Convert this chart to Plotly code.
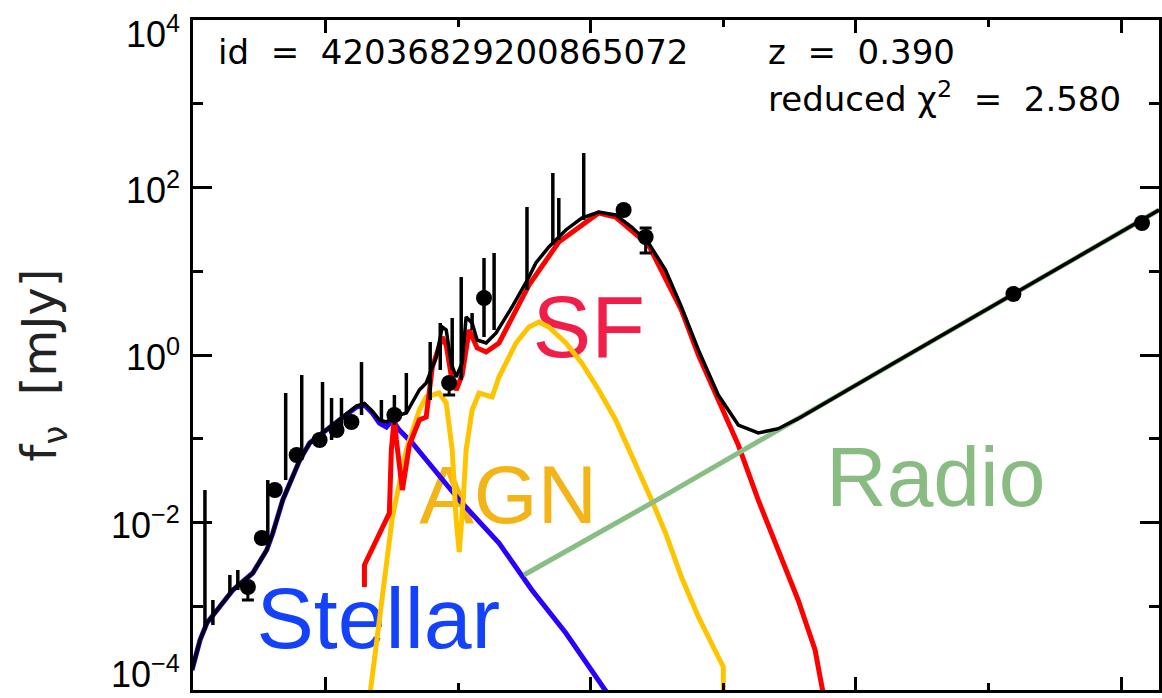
import numpy as np
import plotly.graph_objects as go

# ---------------- data: log10(wavelength / um), log10(f_nu / mJy) ----------------
stellar_loglam = [-1.0075, -0.947, -0.895, -0.699, -0.549, -0.444, -0.398, -0.323, -0.195, -0.120,
                  -0.023, 0.105, 0.233, 0.293, 0.353, 0.406, 0.459, 0.504, 0.556, 0.654, 1.008,
                  1.308, 1.556, 1.812, 2.113, 2.13]
stellar_logf = [-3.761, -3.403, -3.200, -2.806, -2.603, -2.328, -2.125, -1.731, -1.254, -1.051,
                -0.931, -0.776, -0.621, -0.597, -0.693, -0.812, -0.860, -0.776, -0.896, -1.051, -1.731,
                -2.245, -2.806, -3.319, -4.0, -4.05]

agn_loglam = [0.331, 0.406, 0.504, 0.609, 0.707, 0.759, 0.857, 0.910, 0.932, 0.955, 0.985, 1.008,
              1.038, 1.060, 1.105, 1.158, 1.256, 1.308, 1.436, 1.534, 1.609, 1.684, 1.812, 1.932,
              2.060, 2.188, 2.459, 2.564, 2.684, 2.812, 2.962, 3.0, 3.0]
agn_logf = [-4.1, -3.128, -1.934, -1.134, -0.657, -0.501, -0.454, -0.573, -0.812, -1.134, -1.970, -2.352,
            -1.731, -1.134, -0.657, -0.454, -0.501, -0.263, 0.143, 0.334, 0.394, 0.334, 0.143, -0.096,
            -0.418, -0.776, -1.731, -2.125, -2.651, -3.128, -3.606, -3.725, -4.1]

sf_loglam = [0.293, 0.293, 0.481, 0.496, 0.519, 0.534, 0.579, 0.632, 0.707, 0.759, 0.805, 0.880,
             0.910, 0.947, 0.985, 1.030, 1.083, 1.143, 1.211, 1.308, 1.534, 1.759, 2.060, 2.188,
             2.436, 2.684, 2.812, 2.962, 3.113, 3.263, 3.436, 3.564, 3.692, 3.76]
sf_logf = [-2.770, -2.507, -1.887, -1.134, -0.740, -1.015, -1.612, -1.075, -0.776, -0.740, -0.143, 0.215,
           0.119, -0.239, -0.418, -0.239, 0.299, 0.084, 0.036, 0.143, 0.836, 1.349, 1.696, 1.648,
           1.313, 0.537, 0.0, -0.537, -1.075, -1.731, -2.412, -2.925, -3.522, -4.1]

radio_loglam = [1.496, 2.534, 4.316, 5.188, 6.286]
radio_logf = [-2.627, -1.70, -0.070, 0.728, 1.731]

total_loglam = [-1.0075, -0.947, -0.895, -0.699, -0.549, -0.444, -0.398, -0.323, -0.195, -0.120,
                -0.023, 0.105, 0.233, 0.293, 0.353, 0.406, 0.459, 0.504, 0.609, 0.707, 0.759,
                0.835, 0.880, 0.910, 0.947, 0.985, 1.030, 1.060, 1.105, 1.143, 1.211, 1.286,
                1.406, 1.534, 1.586, 1.684, 1.812, 1.932, 2.060, 2.188, 2.308, 2.436, 2.564,
                2.684, 2.812, 2.962, 3.113, 3.263, 3.414, 3.564, 3.940, 4.316, 5.188, 6.286]
total_logf = [-3.761, -3.403, -3.200, -2.806, -2.603, -2.328, -2.125, -1.731, -1.254, -1.051,
              -0.931, -0.776, -0.610, -0.580, -0.670, -0.776, -0.800, -0.740, -0.693, -0.418, -0.334,
              -0.024, 0.334, 0.299, -0.096, -0.263, -0.096, 0.454, 0.382, 0.179, 0.143, 0.263,
              0.573, 0.931, 1.099, 1.290, 1.493, 1.636, 1.707, 1.672, 1.528, 1.337, 1.015,
              0.573, 0.060, -0.478, -0.836, -0.931, -0.880, -0.760, -0.410, -0.070, 0.728, 1.731]

# photometric points with (lower, upper) errors in dex
phot_loglam = [-0.586, -0.481, -0.383, -0.218, -0.045, 0.083, 0.195, 0.519, 0.932, 1.195,
               2.248, 2.414, 5.188, 6.158]
phot_logf = [-2.770, -2.185, -1.612, -1.194, -1.015, -0.896, -0.800, -0.716, -0.334, 0.681,
             1.731, 1.409, 0.728, 1.576]
phot_err_lo = [0.155, 0, 0, 0, 0, 0, 0, 0, 0.143, 0, 0, 0.19, 0, 0]
phot_err_hi = [0, 0, 0, 0, 0, 0, 0, 0, 0, 0, 0, 0.107, 0, 0]

# error bars drawn without a visible point
bar_loglam = [-0.910, -0.850, -0.722, -0.662, -0.436, -0.301, -0.180, -0.023, 0.045, 0.120, 0.271,
              0.421, 0.519, 0.609, 0.789, 0.865, 0.955, 1.023, 1.105, 1.195, 1.271, 1.519,
              1.714, 1.759, 1.947]
bar_hi_logf = [-1.612, -2.925, -2.627, -2.567, -1.493, -0.454, -0.239, -0.322, -0.513, -0.513, -0.084,
               -0.537, -0.478, -0.215, 0.155, 0.382, 0.442, 0.931, 0.501, 1.158, 1.218, 1.767,
               2.173, 1.875, 2.412]
bar_lo_logf = [-3.284, -3.224, -2.866, -2.806, -2.269, -1.493, -1.254, -1.015, -1.015, -0.896, -0.716,
               -0.776, -0.836, -0.693, -0.537, -0.179, -0.179, -0.298, 0.299, 0.215, 0.299, 0.776,
               1.313, 1.373, 1.612]

ytick_vals = [-4, -2, 0, 2, 4]
ytick_text = ["10<sup>\u22124</sup>", "10<sup>\u22122</sup>", "10<sup>0</sup>", "10<sup>2</sup>", "10<sup>4</sup>"]
yminor_vals = [1e-3, 1e-1, 1e1, 1e3]
xmajor_vals = [1, 1e2, 1e4, 1e6]
xminor_vals = [1e1, 1e3, 1e5]

component_names = ["Stellar", "AGN", "SF", "Radio"]
component_colors = ["#1441FA", "#F2B416", "#F01E48", "#89BC82"]

# ---------------- figure ----------------
def lin(a):
    return 10 ** np.asarray(a, dtype=float)

fig = go.Figure()

# component labels (beneath the curves)
label_pos = {"Stellar": (0.398, -3.236), "AGN": (1.376, -1.767), "SF": (1.985, 0.239), "Radio": (4.602, -1.552)}
label_size = {"Stellar": 86, "AGN": 82, "SF": 88, "Radio": 84}
for name, col in zip(component_names, component_colors):
    lx, ly = label_pos[name]
    fig.add_trace(go.Scatter(x=[10 ** lx], y=[10 ** ly], mode="text", text=[name],
                             textposition="middle center",
                             textfont=dict(family="Liberation Sans, Arial", size=label_size[name], color=col),
                             hoverinfo="skip"))

fig.add_trace(go.Scatter(x=lin(stellar_loglam), y=lin(stellar_logf), mode="lines",
                         line=dict(color="#2A00FF", width=5)))
fig.add_trace(go.Scatter(x=lin(agn_loglam), y=lin(agn_logf), mode="lines",
                         line=dict(color="#FFC400", width=5)))
fig.add_trace(go.Scatter(x=lin(sf_loglam), y=lin(sf_logf), mode="lines",
                         line=dict(color="#FF0000", width=5)))
fig.add_trace(go.Scatter(x=lin(radio_loglam), y=lin(radio_logf), mode="lines",
                         line=dict(color="#88BE84", width=5)))
fig.add_trace(go.Scatter(x=lin(total_loglam), y=lin(total_logf), mode="lines",
                         line=dict(color="black", width=3.5)))

# vertical error bars
bx, by = [], []
for lx, lo, hi in zip(bar_loglam, bar_lo_logf, bar_hi_logf):
    bx += [10 ** lx, 10 ** lx, None]
    by += [10 ** lo, 10 ** hi, None]
fig.add_trace(go.Scatter(x=bx, y=by, mode="lines", line=dict(color="black", width=3.5)))

pf = lin(phot_logf)
err_plus = lin(np.array(phot_logf) + np.array(phot_err_hi)) - pf
err_minus = pf - lin(np.array(phot_logf) - np.array(phot_err_lo))
fig.add_trace(go.Scatter(x=lin(phot_loglam), y=pf, mode="markers",
                         marker=dict(color="black", size=16, symbol="circle"),
                         error_y=dict(type="data", symmetric=False, array=err_plus, arrayminus=err_minus,
                                      color="black", thickness=3, width=6)))

PL, PR, PT, PB = 193, 1162, 20, 690
W, H = 1162, 698

def px_x(p):
    return (p - PL) / (PR - PL)

def px_y(p):
    return 1 - (p - PT) / (PB - PT)

anns = []
txt_font = dict(family="DejaVu Sans", size=34, color="black")
nb = "\u00a0"
anns.append(dict(text=f"id{nb}{nb}={nb}{nb}42036829200865072", x=px_x(216), y=px_y(52),
                 xref="paper", yref="paper", xanchor="left", yanchor="middle", showarrow=False, font=txt_font))
anns.append(dict(text=f"z{nb}{nb}={nb}{nb}0.390", x=px_x(768), y=px_y(52),
                 xref="paper", yref="paper", xanchor="left", yanchor="middle", showarrow=False, font=txt_font))
anns.append(dict(text=f"reduced{nb}\u03c7<sup>2</sup>{nb}{nb}={nb}{nb}2.580", x=px_x(768), y=px_y(97),
                 xref="paper", yref="paper", xanchor="left", yanchor="middle", showarrow=False, font=txt_font))

# y tick labels
for v, t in zip(ytick_vals, ytick_text):
    shift = 0
    if v == ytick_vals[-1]:
        shift = -12
    elif v == ytick_vals[0]:
        shift = 18
    anns.append(dict(text=t, x=px_x(182), y=v, xref="paper", yref="y", xanchor="right", yanchor="middle",
                     yshift=shift, showarrow=False,
                     font=dict(family="Liberation Sans, Arial", size=36, color="black")))

# y axis title
anns.append(dict(text=f"f<sub>\u03bd</sub>{nb}{nb}[mJy]", x=px_x(42), y=px_y(365), xref="paper", yref="paper",
                 xanchor="center", yanchor="middle", textangle=-90, showarrow=False,
                 font=dict(family="DejaVu Sans", size=48, color="#222222")))

fig.update_layout(
    width=W, height=H,
    margin=dict(l=PL, r=W - PR, t=PT, b=H - PB),
    paper_bgcolor="white", plot_bgcolor="white",
    showlegend=False,
    annotations=anns,
    xaxis=dict(type="log", range=[-1, 6.286], showline=True, linecolor="black", linewidth=3,
               mirror="allticks", ticks="inside", ticklen=13, tickwidth=3, tickcolor="black",
               tickmode="array", tickvals=xmajor_vals, showticklabels=False, showgrid=False, zeroline=False,
               minor=dict(ticks="inside", ticklen=7, tickwidth=3, tickcolor="black",
                          tickmode="array", tickvals=xminor_vals, showgrid=False)),
    yaxis=dict(type="log", range=[-4, 4], showline=True, linecolor="black", linewidth=3,
               mirror="allticks", ticks="inside", ticklen=19, tickwidth=3, tickcolor="black",
               tickmode="array", tickvals=[10 ** v for v in ytick_vals], showticklabels=False,
               showgrid=False, zeroline=False,
               minor=dict(ticks="inside", ticklen=10, tickwidth=3, tickcolor="black",
                          tickmode="array", tickvals=yminor_vals, showgrid=False)),
)

fig.write_html("out.html")
